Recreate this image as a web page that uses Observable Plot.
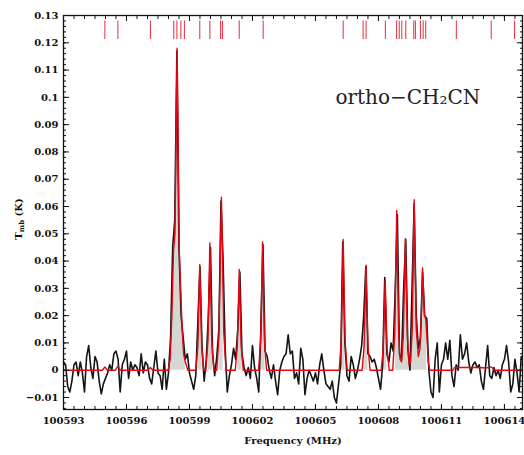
<!DOCTYPE html>
<html><head><meta charset="utf-8">
<script src="https://cdn.jsdelivr.net/npm/d3@7"></script>
<script src="https://cdn.jsdelivr.net/npm/@observablehq/plot@0.6"></script>
<style>html,body{margin:0;padding:0;background:#fff} svg{display:block}</style>
</head><body><div id="chart"></div>
<script>
// ---- observed spectrum (channels of 0.1 MHz starting at 100593.0) ----
const obsStart = 100593.0;
const obsStep = 0.1;
const obsT = [
 0.003,0.002,-0.006,-0.008,-0.004,0.002,0.003,-0.002,0.003,-0.001,
 -0.008,0.005,0.009,0.001,-0.003,0.005,0.003,-0.004,-0.0087,-0.005,
 -0.003,-0.001,0.002,0.0,0.006,0.007,0.004,-0.008,0.002,0.004,
 0.007,-0.003,0.003,0.0,0.002,0.001,-0.002,0.006,-0.001,0.003,
 0.002,-0.003,-0.005,0.001,0.007,-0.001,-0.002,-0.007,0.004,-0.007,
 -0.001,0.012,0.045,0.055,0.117,0.045,0.02,0.012,0.004,0.006,
 -0.001,-0.004,-0.007,-0.002,0.018,0.038,0.008,-0.004,0.004,0.02,
 0.045,0.006,-0.002,0.005,0.015,0.062,0.04,0.008,-0.008,-0.002,
 0.002,0.008,0.004,0.015,0.036,0.006,0.001,-0.002,0.001,-0.003,
 0.009,0.001,-0.003,-0.008,0.015,0.046,0.007,0.005,0.0,-0.003,
 0.002,-0.004,-0.009,0.0,0.003,0.005,0.006,0.013,0.006,0.007,
 -0.003,-0.001,-0.005,0.008,0.004,-0.009,-0.003,0.0,-0.002,-0.004,
 -0.001,-0.005,0.002,0.006,0.0,-0.005,-0.006,-0.007,-0.004,-0.01,
 -0.012,-0.005,0.002,0.047,0.01,-0.002,-0.004,0.005,0.002,-0.003,
 0.0,0.004,0.009,0.02,0.038,0.006,0.005,0.003,0.004,0.001,
 -0.003,-0.007,0.002,0.034,0.006,0.003,0.010,0.007,0.03,0.057,
 0.006,0.004,0.03,0.048,0.008,0.0,0.03,0.061,0.02,0.008,
 0.012,0.036,0.02,0.019,0.0,-0.008,-0.01,0.004,0.01,-0.008,
 0.002,0.004,0.01,0.004,0.011,-0.002,-0.006,0.002,0.0,0.013,
 0.004,0.006,0.01,0.003,-0.001,0.002,0.003,0.001,0.002,-0.004,
 -0.007,0.001,0.009,-0.002,-0.003,0.001,-0.002,0.0,-0.003,0.002,
 0.004,0.009,0.003,-0.008,-0.005,0.004,-0.001,-0.008,0.005
];

// ---- model (synthetic LTE spectrum) ----
const modelFreq = [
 100593.00,
 100594.85,100594.97,100595.09,
 100595.47,100595.59,100595.71,
 100597.02,100597.14,100597.26,
 100597.98,100598.08,100598.16,100598.24,100598.31,100598.36,100598.41,100598.46,100598.51,100598.58,100598.65,100598.72,100598.80,100598.92,
 100599.30,100599.40,100599.45,100599.49,100599.53,100599.58,100599.68,
 100599.78,100599.88,100599.93,100599.97,100600.01,100600.06,100600.16,
 100600.30,100600.40,100600.46,100600.52,100600.57,100600.63,100600.74,
 100601.18,100601.28,100601.33,100601.37,100601.41,100601.46,100601.56,
 100602.29,100602.39,100602.44,100602.48,100602.52,100602.57,100602.67,
 100606.13,100606.23,100606.28,100606.32,100606.36,100606.41,100606.51,
 100607.22,100607.32,100607.37,100607.41,100607.45,100607.50,100607.60,
 100608.13,100608.23,100608.28,100608.32,100608.36,100608.41,100608.51,
 100608.68,100608.78,100608.83,100608.87,100608.91,100608.96,100609.03,100609.10,
 100609.18,100609.24,100609.28,100609.32,100609.38,100609.46,100609.53,
 100609.61,100609.66,100609.70,100609.74,100609.80,100609.90,100609.98,
 100610.05,100610.10,100610.14,100610.19,100610.25,100610.31,100610.37,100610.45,
 100611.55,100611.62,100612.80,100613.10,100613.37,100613.55,100614.86
];
const modelT = [
 0,
 0,0.0012,0,
 0,0.0015,0,
 0,0.001,0,
 0,0.004,0.02,0.044,0.05,0.085,0.118,0.085,0.045,0.03,0.015,0.006,0.003,0,
 0,0.009,0.026,0.0387,0.026,0.009,0,
 0,0.011,0.031,0.0466,0.031,0.011,0,
 0,0.012,0.038,0.0634,0.045,0.014,0,
 0,0.009,0.025,0.0369,0.025,0.009,0,
 0,0.011,0.031,0.047,0.031,0.011,0,
 0,0.011,0.032,0.0479,0.032,0.011,0,
 0,0.009,0.026,0.0385,0.026,0.009,0,
 0,0.008,0.022,0.033,0.022,0.008,0,
 0,0.014,0.039,0.0585,0.039,0.014,0.004,0.003,
 0.012,0.032,0.0482,0.032,0.012,0.002,0.003,
 0.015,0.042,0.0625,0.042,0.015,0.005,0.008,
 0.022,0.0375,0.03,0.02,0.019,0.012,0.003,0,
 0,0.001,0.001,0.0008,0.0012,0,0
];

// ---- catalogue line positions (red markers at top) ----
const lineFreqs = [
 100594.97,100595.59,100597.14,100598.25,100598.40,100598.59,100598.76,
 100599.49,100599.97,100600.48,100600.57,100601.37,100602.51,100606.32,
 100607.27,100607.41,100608.33,100608.86,100608.99,100609.11,100609.30,
 100609.68,100609.76,100610.00,100610.13,100610.25,100611.71,100613.37,100614.48
];

// ---- grey filled line windows ----
const fillWindows = [
 [100598.0,100598.8],[100599.4,100599.6],[100599.9,100600.1],[100600.4,100600.6],
 [100601.3,100601.5],[100602.4,100602.6],[100606.2,100606.4],[100607.3,100607.5],
 [100608.2,100608.4],[100608.8,100610.3]
];

// ---- axes ----
const xTicks = [100593,100596,100599,100602,100605,100608,100611,100614];
const xTickLabels = ["100593","100596","100599","100602","100605","100608","100611","100614"];
const yTicks = [-0.01,0,0.01,0.02,0.03,0.04,0.05,0.06,0.07,0.08,0.09,0.1,0.11,0.12,0.13];
const yTickLabels = ["\u22120.01","0","0.01","0.02","0.03","0.04","0.05","0.06","0.07","0.08","0.09","0.1","0.11","0.12","0.13"];
const xDomain = [100593, 100614.86];
const yDomain = [-0.0144, 0.13];
const xTitle = "Frequency (MHz)";
const speciesLabel = "ortho\u2212CH\u2082CN";

// ---- build tables ----
const obsRows = obsT.map((T, i) => ({f: +(obsStart + i * obsStep).toFixed(2), T}));
const modelRows = modelFreq.map((f, i) => ({f, T: modelT[i]}));
const fillRows = [];
obsRows.forEach(r => {
  fillWindows.forEach((w, k) => {
    if (r.f >= w[0] - 1e-6 && r.f <= w[1] + 1e-6) fillRows.push({f: r.f, T: Math.max(0, r.T), w: k});
  });
});
const xMinor = d3.range(xDomain[0], xDomain[1], 0.5);
const yMinor = d3.range(-0.014, 0.1301, 0.002).map(v => +v.toFixed(3));
const xLab = new Map(xTicks.map((t, i) => [t, xTickLabels[i]]));
const yLab = new Map(yTicks.map((t, i) => [t.toFixed(2), yTickLabels[i]]));
const blank = () => "";

const chart = Plot.plot({
  width: 524, height: 455,
  marginLeft: 63, marginRight: 2, marginTop: 15, marginBottom: 46,
  style: {fontFamily: "DejaVu Serif", fontWeight: "bold", fontSize: "10px", background: "#fff", color: "#111"},
  x: {domain: xDomain},
  y: {domain: yDomain},
  marks: [
    Plot.areaY(fillRows, {x: "f", y: "T", z: "w", fill: "#d5d8d2"}),
    Plot.line(obsRows, {x: "f", y: "T", stroke: "#151515", strokeWidth: 1.6}),
    Plot.line(modelRows, {x: "f", y: "T", stroke: "#e30613", strokeWidth: 1.4}),
    Plot.ruleX(lineFreqs, {x: d => d, y1: 0.1212, y2: 0.128, stroke: "#e8404e", strokeWidth: 1.1}),
    Plot.text([speciesLabel], {x: 100605.95, y: 0.1, text: d => d, textAnchor: "start", lineAnchor: "middle",
      fontSize: 20, fontWeight: "normal", fontFamily: "DejaVu Serif", fill: "#222"}),
    Plot.frame({stroke: "#111", strokeWidth: 1.3}),
    Plot.axisX({ticks: xMinor, tickSize: -3, tickFormat: blank, label: null}),
    Plot.axisX({ticks: xTicks, tickSize: -5, tickFormat: blank, label: null}),
    Plot.axisX({anchor: "top", ticks: xMinor, tickSize: -3, tickFormat: blank, label: null}),
    Plot.axisX({anchor: "top", ticks: xTicks, tickSize: -5, tickFormat: blank, label: null}),
    Plot.axisX({ticks: xTicks, tickSize: 0, tickPadding: 7, tickFormat: d => xLab.get(d), label: null}),
    Plot.axisY({ticks: yMinor, tickSize: -3, tickFormat: blank, label: null}),
    Plot.axisY({ticks: yTicks, tickSize: -6, tickFormat: blank, label: null}),
    Plot.axisY({anchor: "right", ticks: yMinor, tickSize: -3, tickFormat: blank, label: null}),
    Plot.axisY({anchor: "right", ticks: yTicks, tickSize: -6, tickFormat: blank, label: null}),
    Plot.axisY({ticks: yTicks, tickSize: 0, tickPadding: 5, tickFormat: d => yLab.get(d.toFixed(2)), label: null}),
    Plot.text([xTitle], {frameAnchor: "bottom", dy: 31, text: d => d, lineAnchor: "middle", fontSize: 10})
  ]
});

// y-axis title with subscript
const svg = d3.select(chart);
const yt = svg.append("text")
  .attr("transform", "translate(19,219) rotate(-90)")
  .attr("text-anchor", "middle")
  .attr("dominant-baseline", "middle")
  .attr("font-family", "DejaVu Serif").attr("font-weight", "bold").attr("font-size", 10)
  .attr("fill", "#111");
yt.append("tspan").text("T");
yt.append("tspan").attr("font-size", 7).attr("dy", 3).text("mb");
yt.append("tspan").attr("dy", -3).text(" (K)");

document.getElementById("chart").appendChild(chart);
</script>
</body></html>
